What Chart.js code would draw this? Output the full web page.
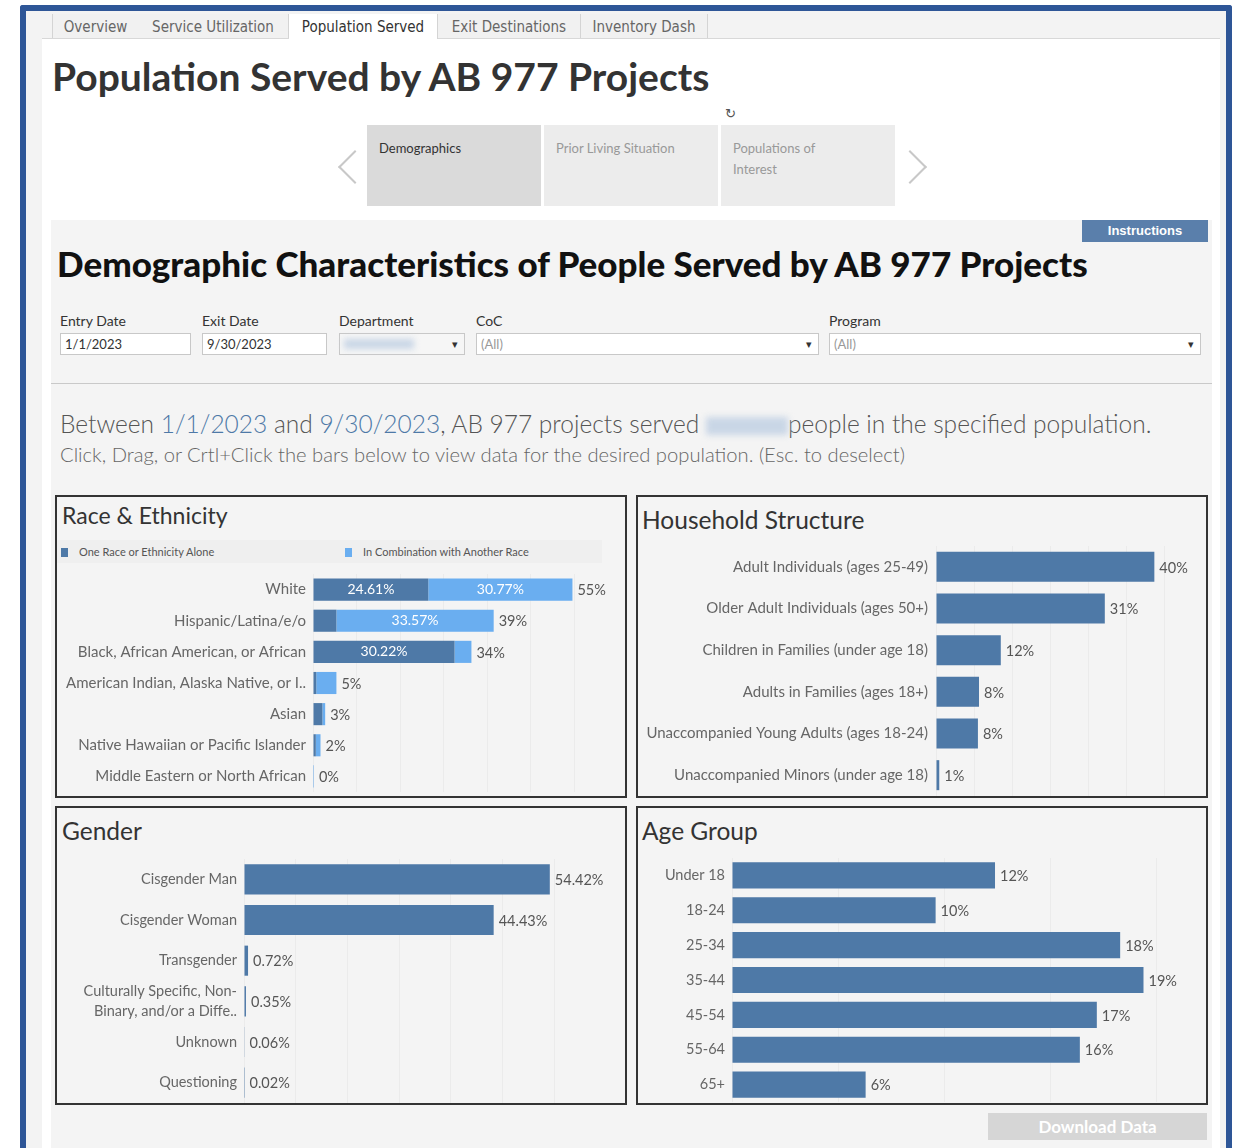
<!DOCTYPE html>
<html>
<head>
<meta charset="utf-8">
<title>Population Served by AB 977 Projects</title>
<script src="https://cdn.jsdelivr.net/npm/chart.js@4.4.1/dist/chart.umd.min.js"></script>
<style>
  body { margin: 0; width: 1238px; height: 1148px; overflow: hidden; background: #fff; font-family: Lato, "Noto Sans", sans-serif; position: relative; }
  .abs { position: absolute; }
  #frame { left: 20px; top: 5px; width: 1212px; height: 1160px; box-sizing: border-box; border: 6px solid #2e5697; border-bottom: none; border-radius: 3px 3px 0 0; background: #f3f3f3; }
  #content { left: 42px; top: 38px; width: 1178px; height: 1110px; background: #fff; }
  #tabs { left: 42px; top: 14px; width: 1178px; height: 24px; border-bottom: 1px solid #d8d8d8; }
  .tab { position: absolute; top: 14px; height: 24px; line-height: 27px; font-family: "Liberation Sans Narrow", "DejaVu Sans Condensed", sans-serif; font-size: 15px; color: #666; text-align: center; border-right: 1px solid #d4d4d4; background: #f1f1f1; }
  .tab.active { background: #fff; color: #333; height: 25px; }
  h1 { position: absolute; left: 52px; top: 53px; margin: 0; font-size: 39px; font-weight: 700; color: #333; }
  .tile { position: absolute; top: 125px; width: 174px; height: 81px; background: #ececec; font-size: 13px; color: #999; box-sizing: border-box; padding: 13px 12px; line-height: 21px; }
  .chev { position: absolute; width: 22px; height: 22px; border-left: 2px solid #c8c8c8; border-bottom: 2px solid #c8c8c8; }
  #panel { left: 51px; top: 220px; width: 1161px; height: 940px; background: #f4f4f4; }
  #instr { left: 1082px; top: 220px; width: 126px; height: 22px; background: #5a7fab; color: #fff; font-family: "Liberation Sans Narrow", sans-serif; font-weight: 700; font-size: 13px; text-align: center; line-height: 22px; }
  h2 { position: absolute; left: 57px; top: 242px; margin: 0; font-size: 35px; font-weight: 900; color: #111; }
  .flabel { position: absolute; top: 312px; font-size: 14px; color: #333; }
  .finput { position: absolute; top: 333px; height: 22px; box-sizing: border-box; border: 1px solid #c8c8c8; background: #fff; font-size: 13px; color: #333; line-height: 20px; padding-left: 4px; }
  .finput.sel { color: #999; }
  .finput.sel::after { content: "\25BE"; position: absolute; right: 6px; top: 0; color: #333; font-size: 11px; }
  #hr { left: 51px; top: 383px; width: 1161px; height: 1px; background: #c9c9c9; }
  #line1 { left: 60px; top: 409px; font-size: 24.5px; color: #555; font-weight: 300; white-space: nowrap; }
  #line1 .d { color: #4e79a7; }
  #line2 { left: 60px; top: 442px; font-size: 20.2px; color: #666; font-weight: 300; white-space: nowrap; }
  .blur { display: inline-block; width: 82px; height: 18px; background: #c9d6e6; filter: blur(3px); vertical-align: -2px; }
  .box { position: absolute; box-sizing: border-box; border: 2px solid #333; background: #f4f4f4; }
  .ptitle { position: absolute; font-size: 24.5px; color: #333; }
  .chartwrap { position: absolute; }
  .leg { position: absolute; top: 545px; font-size: 11px; color: #555; }
  .leg i { display: inline-block; width: 7px; height: 9px; margin-right: 11px; vertical-align: -1px; }
  #dl { left: 988px; top: 1113px; width: 219px; height: 27px; background: #d6d6d6; color: #fff; font-weight: 700; font-size: 17px; text-align: center; line-height: 28px; }
</style>
</head>
<body>
<div id="frame" class="abs"></div>
<div id="content" class="abs"></div>
<div id="tabs" class="abs"></div>
<div class="tab" style="left:52px;width:85px;border-left:1px solid #d4d4d4;">Overview</div>
<div class="tab" style="left:138px;width:150px;">Service Utilization</div>
<div class="tab active" style="left:289px;width:148px;">Population Served</div>
<div class="tab" style="left:438px;width:142px;">Exit Destinations</div>
<div class="tab" style="left:581px;width:126px;">Inventory Dash</div>

<h1>Population Served by AB 977 Projects</h1>

<div class="abs" style="left:725px;top:106px;font-size:13px;color:#555;font-family:'DejaVu Sans';">&#8635;</div>
<div class="chev" style="left:343px;top:155px;transform:rotate(45deg);"></div>
<div class="tile" style="left:367px;background:#dadada;color:#333;">Demographics</div>
<div class="tile" style="left:544px;">Prior Living Situation</div>
<div class="tile" style="left:721px;">Populations of<br>Interest</div>
<div class="chev" style="left:898px;top:155px;transform:rotate(-135deg);"></div>

<div id="panel" class="abs"></div>
<div id="instr" class="abs">Instructions</div>
<h2>Demographic Characteristics of People Served by AB 977 Projects</h2>

<div class="flabel" style="left:60px;">Entry Date</div>
<div class="flabel" style="left:202px;">Exit Date</div>
<div class="flabel" style="left:339px;">Department</div>
<div class="flabel" style="left:476px;">CoC</div>
<div class="flabel" style="left:829px;">Program</div>
<div class="finput" style="left:60px;width:131px;">1/1/2023</div>
<div class="finput" style="left:202px;width:125px;">9/30/2023</div>
<div class="finput sel" style="left:339px;width:126px;background:#f6f6f6;"><span class="blur" style="width:70px;height:10px;vertical-align:0;"></span></div>
<div class="finput sel" style="left:476px;width:343px;">(All)</div>
<div class="finput sel" style="left:829px;width:372px;">(All)</div>
<div id="hr" class="abs"></div>

<div id="line1" class="abs">Between <span class="d">1/1/2023</span> and <span class="d">9/30/2023</span>, AB 977 projects served <span class="blur"></span>people in the specified population.</div>
<div id="line2" class="abs">Click, Drag, or Crtl+Click the bars below to view data for the desired population. (Esc. to deselect)</div>

<div class="box" style="left:55px;top:495px;width:572px;height:303px;"></div>
<div class="box" style="left:636px;top:495px;width:572px;height:303px;"></div>
<div class="box" style="left:55px;top:806px;width:572px;height:299px;"></div>
<div class="box" style="left:636px;top:806px;width:572px;height:299px;"></div>
<div class="ptitle" style="left:62px;top:501px;font-size:23px;">Race &amp; Ethnicity</div>
<div class="ptitle" style="left:642px;top:505px;">Household Structure</div>
<div class="ptitle" style="left:62px;top:816px;">Gender</div>
<div class="ptitle" style="left:642px;top:816px;">Age Group</div>
<div class="abs" style="left:57px;top:540px;width:545px;height:23px;background:#efefef;"></div>
<div class="leg" style="left:61px;"><i style="background:#4e79a7"></i>One Race or Ethnicity Alone</div>
<div class="leg" style="left:345px;"><i style="background:#6aaef0"></i>In Combination with Another Race</div>

<div class="chartwrap" style="left:57px;top:574px;width:568px;height:218px;"><canvas id="raceChart"></canvas></div>
<div class="chartwrap" style="left:638px;top:546px;width:567px;height:250px;"><canvas id="householdChart"></canvas></div>
<div class="chartwrap" style="left:57px;top:859px;width:568px;height:244px;"><canvas id="genderChart"></canvas></div>
<div class="chartwrap" style="left:638px;top:858px;width:567px;height:244px;"><canvas id="ageChart"></canvas></div>

<div id="dl" class="abs">Download Data</div>

<script>
// data (percent of people served)
const raceLabels = ['White', 'Hispanic/Latina/e/o', 'Black, African American, or African',
    'American Indian, Alaska Native, or I..', 'Asian', 'Native Hawaiian or Pacific Islander',
    'Middle Eastern or North African'];
const raceAlone = [24.61, 5.0, 30.22, 0.7, 2.0, 0.6, 0.1];
const raceCombo = [30.77, 33.57, 3.6, 4.3, 0.6, 1.0, 0.1];

const householdLabels = ['Adult Individuals (ages 25-49)', 'Older Adult Individuals (ages 50+)',
    'Children in Families (under age 18)', 'Adults in Families (ages 18+)',
    'Unaccompanied Young Adults (ages 18-24)', 'Unaccompanied Minors (under age 18)'];
const householdValues = [40.1, 31.0, 11.9, 7.9, 7.7, 0.6];

const genderLabels = ['Cisgender Man', 'Cisgender Woman', 'Transgender',
    ['Culturally Specific, Non-', 'Binary, and/or a Diffe..'], 'Unknown', 'Questioning'];
const genderValues = [54.42, 44.43, 0.72, 0.35, 0.06, 0.02];

const ageLabels = ['Under 18', '18-24', '25-34', '35-44', '45-54', '55-64', '65+'];
const ageValues = [12.4, 9.6, 18.3, 19.4, 17.2, 16.4, 6.3];

const DARK = '#4e79a7';
const LIGHT = '#6aaef0';
const FONT = 'Lato, "Noto Sans", sans-serif';

// draws the % labels next to / inside the bars
const valueLabels = {
    id: 'valueLabels',
    afterDatasetsDraw(chart, args, opts) {
        const ctx = chart.ctx;
        ctx.save();
        ctx.textBaseline = 'middle';
        const sets = chart.data.datasets;
        const last = chart.getDatasetMeta(sets.length - 1).data;
        last.forEach((bar, i) => {
            if (opts.inside) {
                ctx.font = '14px ' + FONT;
                sets.forEach((ds, d) => {
                    const v = ds.data[i];
                    if (v < 20) return;
                    const el = chart.getDatasetMeta(d).data[i];
                    ctx.fillStyle = '#fff';
                    ctx.textAlign = 'center';
                    ctx.fillText(v.toFixed(2) + '%', (el.x + el.base) / 2, el.y);
                });
            }
            let total = 0;
            sets.forEach(ds => total += ds.data[i]);
            ctx.font = '14.5px ' + FONT;
            ctx.fillStyle = '#555';
            ctx.textAlign = 'left';
            const txt = opts.decimals ? total.toFixed(opts.decimals) + '%' : Math.round(total) + '%';
            ctx.fillText(txt, Math.max(bar.x, bar.base) + 5, bar.y + 1);
        });
        ctx.restore();
    }
};

function noPad(s) {
    s.paddingTop = 0;
    s.paddingBottom = 0;
}

function makeChart(id, labels, datasets, cfg) {
    return new Chart(document.getElementById(id), {
        type: 'bar',
        data: { labels: labels, datasets: datasets },
        plugins: [valueLabels],
        options: {
            indexAxis: 'y',
            responsive: true,
            maintainAspectRatio: false,
            animation: false,
            layout: { padding: 0, autoPadding: false },
            plugins: {
                legend: { display: false },
                tooltip: { enabled: false },
                valueLabels: { inside: cfg.inside || false, decimals: cfg.decimals || 0 }
            },
            datasets: { bar: { categoryPercentage: 1, barPercentage: cfg.bar } },
            scales: {
                x: {
                    stacked: true,
                    min: 0,
                    max: cfg.max,
                    afterFit: s => { s.height = 0; s.paddingLeft = 0; s.paddingRight = 0; },
                    ticks: { display: false, stepSize: cfg.step },
                    grid: { color: '#ebebeb', drawTicks: false },
                    border: { display: false }
                },
                y: {
                    stacked: true,
                    afterFit: s => { s.width = cfg.axisWidth; noPad(s); },
                    ticks: {
                        autoSkip: false,
                        padding: cfg.pad || 7,
                        color: '#666',
                        font: { family: FONT, size: cfg.fontSize || 15, lineHeight: 1.4 }
                    },
                    grid: { display: false, drawTicks: false },
                    border: { display: false }
                }
            }
        }
    });
}

makeChart('raceChart', raceLabels, [
    { label: 'One Race or Ethnicity Alone', data: raceAlone, backgroundColor: DARK },
    { label: 'In Combination with Another Race', data: raceCombo, backgroundColor: LIGHT }
], { max: 66.6, step: 9.3, bar: 0.71, axisWidth: 256, inside: true });

makeChart('householdChart', householdLabels, [
    { data: householdValues, backgroundColor: DARK }
], { max: 49.4, step: 7, bar: 0.72, axisWidth: 298, pad: 8 });

makeChart('genderChart', genderLabels, [
    { data: genderValues, backgroundColor: DARK }
], { max: 67.8, step: 9.2, bar: 0.74, axisWidth: 187, decimals: 2, fontSize: 14.5 });

makeChart('ageChart', ageLabels, [
    { data: ageValues, backgroundColor: DARK }
], { max: 22.3, step: 5, bar: 0.75, axisWidth: 94, fontSize: 14.5 });
</script>
</body>
</html>
